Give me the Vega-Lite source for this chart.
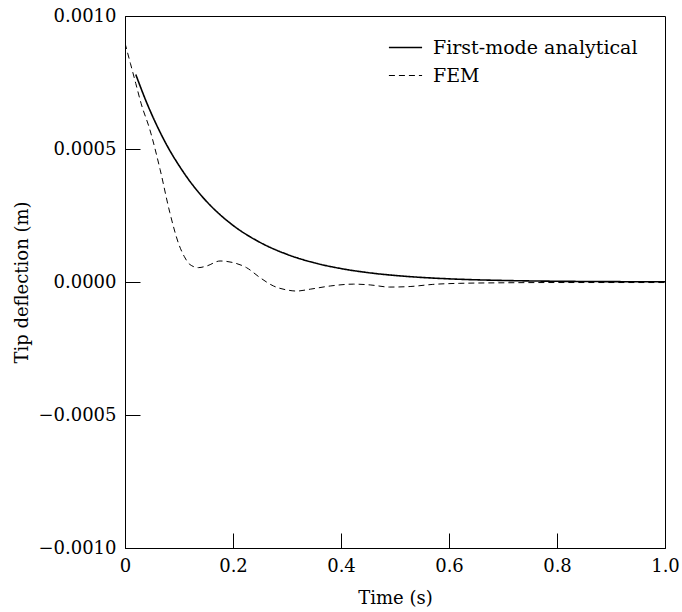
{
  "$schema": "https://vega.github.io/schema/vega-lite/v6.json",
  "width": 540,
  "height": 532,
  "autosize": {"type": "none"},
  "padding": {"left": 125, "top": 16, "right": 17, "bottom": 64},
  "background": "white",
  "config": {
    "view": {"stroke": "black", "strokeWidth": 1},
    "font": "DejaVu Serif"
  },
  "data": {
    "values": [
      {"t": 0.02, "v": 0.00078, "s": "First-mode analytical"},
      {"t": 0.04, "v": 0.000675, "s": "First-mode analytical"},
      {"t": 0.06, "v": 0.000584, "s": "First-mode analytical"},
      {"t": 0.08, "v": 0.000505, "s": "First-mode analytical"},
      {"t": 0.10, "v": 0.000438, "s": "First-mode analytical"},
      {"t": 0.12, "v": 0.000379, "s": "First-mode analytical"},
      {"t": 0.14, "v": 0.000328, "s": "First-mode analytical"},
      {"t": 0.16, "v": 0.000284, "s": "First-mode analytical"},
      {"t": 0.18, "v": 0.000246, "s": "First-mode analytical"},
      {"t": 0.20, "v": 0.000213, "s": "First-mode analytical"},
      {"t": 0.25, "v": 0.000149, "s": "First-mode analytical"},
      {"t": 0.30, "v": 0.000104, "s": "First-mode analytical"},
      {"t": 0.35, "v": 0.0000724, "s": "First-mode analytical"},
      {"t": 0.40, "v": 0.0000505, "s": "First-mode analytical"},
      {"t": 0.45, "v": 0.0000352, "s": "First-mode analytical"},
      {"t": 0.50, "v": 0.0000246, "s": "First-mode analytical"},
      {"t": 0.55, "v": 0.0000171, "s": "First-mode analytical"},
      {"t": 0.60, "v": 0.0000119, "s": "First-mode analytical"},
      {"t": 0.70, "v": 0.0000058, "s": "First-mode analytical"},
      {"t": 0.80, "v": 0.0000028, "s": "First-mode analytical"},
      {"t": 0.90, "v": 0.0000014, "s": "First-mode analytical"},
      {"t": 1.00, "v": 0.0000007, "s": "First-mode analytical"},
      {"t": 0.0, "v": 0.000898, "s": "FEM"},
      {"t": 0.01, "v": 0.000822, "s": "FEM"},
      {"t": 0.02, "v": 0.000746, "s": "FEM"},
      {"t": 0.03, "v": 0.00067, "s": "FEM"},
      {"t": 0.046, "v": 0.000573, "s": "FEM"},
      {"t": 0.065, "v": 0.000423, "s": "FEM"},
      {"t": 0.083, "v": 0.000261, "s": "FEM"},
      {"t": 0.10, "v": 0.00014, "s": "FEM"},
      {"t": 0.11, "v": 0.000095, "s": "FEM"},
      {"t": 0.12, "v": 0.000066, "s": "FEM"},
      {"t": 0.136, "v": 0.000054, "s": "FEM"},
      {"t": 0.151, "v": 0.00006, "s": "FEM"},
      {"t": 0.176, "v": 0.000079, "s": "FEM"},
      {"t": 0.20, "v": 0.000073, "s": "FEM"},
      {"t": 0.225, "v": 0.000054, "s": "FEM"},
      {"t": 0.25, "v": 0.0000165, "s": "FEM"},
      {"t": 0.275, "v": -0.000015, "s": "FEM"},
      {"t": 0.30, "v": -0.00003, "s": "FEM"},
      {"t": 0.318, "v": -0.000034, "s": "FEM"},
      {"t": 0.343, "v": -0.000027, "s": "FEM"},
      {"t": 0.38, "v": -0.000015, "s": "FEM"},
      {"t": 0.423, "v": -0.000008, "s": "FEM"},
      {"t": 0.454, "v": -0.000011, "s": "FEM"},
      {"t": 0.49, "v": -0.000019, "s": "FEM"},
      {"t": 0.528, "v": -0.000017, "s": "FEM"},
      {"t": 0.57, "v": -0.000009, "s": "FEM"},
      {"t": 0.62, "v": -0.000005, "s": "FEM"},
      {"t": 0.70, "v": -0.000003, "s": "FEM"},
      {"t": 0.80, "v": -0.000002, "s": "FEM"},
      {"t": 0.90, "v": -0.000002, "s": "FEM"},
      {"t": 1.00, "v": -0.000002, "s": "FEM"}
    ]
  },
  "mark": {"type": "line", "color": "black", "interpolate": "monotone", "clip": true},
  "encoding": {
    "x": {
      "field": "t", "type": "quantitative",
      "scale": {"domain": [0, 1], "nice": false},
      "axis": {
        "title": "Time (s)", "values": [0, 0.2, 0.4, 0.6, 0.8, 1.0],
        "labelExpr": "datum.value == 0 ? '0' : format(datum.value, '.1f')",
        "grid": false, "tickSize": -15, "labelPadding": 24,
        "domainColor": "black", "tickColor": "black",
        "labelColor": "black", "titleColor": "black",
        "labelFont": "DejaVu Serif", "labelFontSize": 18,
        "titleFont": "DejaVu Serif", "titleFontSize": 18, "titleFontWeight": "normal",
        "titlePadding": 14, "labelFlush": false
      }
    },
    "y": {
      "field": "v", "type": "quantitative",
      "scale": {"domain": [-0.001, 0.001], "nice": false},
      "axis": {
        "title": "Tip deflection (m)", "values": [-0.001, -0.0005, 0, 0.0005, 0.001],
        "format": ".4f",
        "grid": false, "tickSize": -15, "labelPadding": 24,
        "domainColor": "black", "tickColor": "black",
        "labelColor": "black", "titleColor": "black",
        "labelFont": "DejaVu Serif", "labelFontSize": 18,
        "titleFont": "DejaVu Serif", "titleFontSize": 18, "titleFontWeight": "normal",
        "titlePadding": 6, "labelFlush": false
      }
    },
    "strokeDash": {
      "field": "s", "type": "nominal",
      "scale": {"domain": ["First-mode analytical", "FEM"], "range": [[1, 0], [6, 4]]},
      "legend": {
        "title": null, "orient": "none", "legendX": 263, "legendY": 14,
        "symbolType": "stroke", "symbolSize": 1100, "symbolStrokeColor": "black",
        "symbolStrokeWidth": 1.3, "labelLimit": 0,
        "labelFont": "DejaVu Serif", "labelFontSize": 19, "labelColor": "black",
        "rowPadding": -11, "labelOffset": 10
      }
    },
    "strokeWidth": {
      "field": "s", "type": "nominal",
      "scale": {"domain": ["First-mode analytical", "FEM"], "range": [1.6, 1.0]},
      "legend": null
    }
  }
}
